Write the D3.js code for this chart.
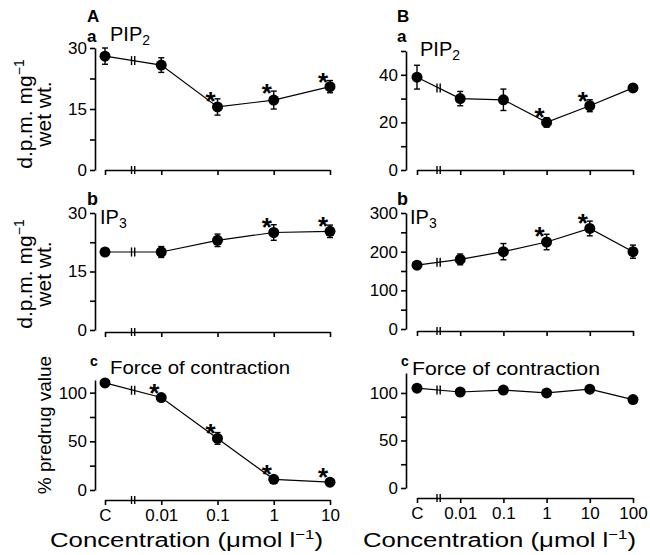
<!DOCTYPE html>
<html>
<head>
<meta charset="utf-8">
<script src="https://cdn.jsdelivr.net/npm/d3@7"></script>
<style>
  body { margin: 0; background: white; }
  text { font-family: "Liberation Sans", Arial, sans-serif; fill: black; }
</style>
</head>
<body>
<div id="chart"></div>
<script>

// concentrations (umol/l), C = control
const concA = ["C", "0.01", "0.1", "1", "10"];
const concB = ["C", "0.01", "0.1", "1", "10", "100"];

// panel A
const pip2A = [28, 25.8, 15.5, 17.2, 20.5];
const pip2AErr = [2, 1.8, 2, 2.2, 1.5];
const pip2AStar = [0, 0, 1, 1, 1];

const ip3A = [20, 20, 23, 25, 25.3];
const ip3AErr = [0, 1.4, 1.6, 2, 1.6];
const ip3AStar = [0, 0, 0, 1, 1];

const forceA = [110, 95, 53, 11, 8];
const forceAErr = [0, 0, 6, 0, 0];
const forceAStar = [0, 1, 1, 1, 1];

// panel B
const pip2B = [39, 30, 29.5, 20, 27, 34.5];
const pip2BErr = [5, 3, 4.5, 2, 2.5, 0];
const pip2BStar = [0, 0, 0, 1, 1, 0];

const ip3B = [165, 180, 200, 225, 260, 200];
const ip3BErr = [0, 14, 21, 20, 19, 17];
const ip3BStar = [0, 0, 0, 1, 1, 0];

const forceB = [105, 101, 103, 100, 104, 93];
const forceBErr = [0, 0, 0, 0, 0, 0];
const forceBStar = [0, 0, 0, 0, 0, 0];

// y ticks
const ticksPipA = [0, 15, 30], minorPipA = [7.5, 22.5];
const ticksPipB = [0, 20, 40], minorPipB = [10, 30, 50];
const ticksIpA = [0, 15, 30], minorIpA = [7.5, 22.5];
const ticksIpB = [0, 100, 200, 300], minorIpB = [50, 150, 250];
const ticksForce = [0, 50, 100], minorForce = [25, 75];

let width = 650;
let height = 555;

let svg = d3.select("#chart")
    .append("svg")
    .attr("width", width)
    .attr("height", height);

const colA = { axisX: 95, xr: [105, 330] };
const colB = { axisX: 406, xr: [417, 633] };

const panels = [
    { col: colA, cats: concA, vals: pip2A, err: pip2AErr, star: pip2AStar, dom: [0, 30], yr: [170, 48], ticks: ticksPipA, minor: minorPipA, xAxisY: 170 },
    { col: colB, cats: concB, vals: pip2B, err: pip2BErr, star: pip2BStar, dom: [0, 50], yr: [170, 51], ticks: ticksPipB, minor: minorPipB, xAxisY: 170 },
    { col: colA, cats: concA, vals: ip3A, err: ip3AErr, star: ip3AStar, dom: [0, 30], yr: [330, 213], ticks: ticksIpA, minor: minorIpA, xAxisY: 332 },
    { col: colB, cats: concB, vals: ip3B, err: ip3BErr, star: ip3BStar, dom: [0, 300], yr: [329, 213], ticks: ticksIpB, minor: minorIpB, xAxisY: 331 },
    { col: colA, cats: concA, vals: forceA, err: forceAErr, star: forceAStar, dom: [0, 113], yr: [490, 380], ticks: ticksForce, minor: minorForce, xAxisY: 500, labels: true },
    { col: colB, cats: concB, vals: forceB, err: forceBErr, star: forceBStar, dom: [0, 121], yr: [488, 373], ticks: ticksForce, minor: minorForce, xAxisY: 498, labels: true }
];

const styleAxis = function(g) {
    g.attr("font-family", "'Liberation Sans', Arial, sans-serif")
        .attr("font-size", 17);
    g.selectAll("path, line")
        .attr("stroke", "black")
        .attr("stroke-width", 1.6);
    return g;
};

const drawPanel = function(p) {
    let x = d3.scalePoint().domain(p.cats).range(p.col.xr);
    let y = d3.scaleLinear().domain(p.dom).range(p.yr);
    let g = svg.append("g");

    // y axis
    g.append("g")
        .attr("transform", "translate(" + p.col.axisX + ",0)")
        .call(d3.axisLeft(y).tickValues(p.ticks).tickSize(5).tickSizeOuter(0).tickPadding(3))
        .call(styleAxis);
    g.append("g")
        .attr("transform", "translate(" + p.col.axisX + ",0)")
        .call(d3.axisLeft(y).tickValues(p.minor).tickSize(5).tickFormat(""))
        .call(styleAxis)
        .select(".domain").remove();

    // x axis
    g.append("g")
        .attr("transform", "translate(0," + p.xAxisY + ")")
        .call(d3.axisBottom(x).tickSize(5).tickSizeOuter(0).tickPadding(4)
            .tickFormat(p.labels ? (d => d) : ""))
        .call(styleAxis);

    // axis break between C and 0.01
    let xb = (x("C") + x("0.01")) / 2;
    const breakMark = function(cx, cy, h) {
        [-1.6, 1.6].forEach(dx => {
            g.append("line")
                .attr("x1", cx + dx).attr("x2", cx + dx)
                .attr("y1", cy - h).attr("y2", cy + h)
                .attr("stroke", "black")
                .attr("stroke-width", 1.4);
        });
    };
    breakMark(xb, p.xAxisY, 4);

    // data line
    let pts = p.cats.map((c, i) => [x(c), y(p.vals[i])]);
    g.append("path")
        .attr("d", d3.line()(pts))
        .attr("fill", "none")
        .attr("stroke", "black")
        .attr("stroke-width", 1.2);
    breakMark(xb, (pts[0][1] + pts[1][1]) / 2, 4.5);

    // error bars
    p.cats.forEach((c, i) => {
        if (!p.err[i]) return;
        let cx = x(c);
        let y1 = y(p.vals[i] + p.err[i]);
        let y2 = y(p.vals[i] - p.err[i]);
        g.append("line").attr("x1", cx).attr("x2", cx).attr("y1", y1).attr("y2", y2)
            .attr("stroke", "black").attr("stroke-width", 1.4);
        [y1, y2].forEach(yy => {
            g.append("line").attr("x1", cx - 3).attr("x2", cx + 3).attr("y1", yy).attr("y2", yy)
                .attr("stroke", "black").attr("stroke-width", 1.4);
        });
    });

    // markers
    g.selectAll("circle")
        .data(pts)
        .join("circle")
        .attr("cx", d => d[0])
        .attr("cy", d => d[1])
        .attr("r", 5.5)
        .attr("fill", "black");

    // significance stars
    p.cats.forEach((c, i) => {
        if (!p.star[i]) return;
        let top = y(p.vals[i] + p.err[i]);
        let cy = Math.min(pts[i][1] - 11, top - 4);
        g.append("text")
            .attr("x", pts[i][0] - 7)
            .attr("y", cy + 15)
            .attr("text-anchor", "middle")
            .attr("font-size", 26)
            .attr("font-weight", "bold")
            .text("*");
    });
};

panels.forEach(drawPanel);

// panel letters and titles
const label = function(x, y, str, size, bold) {
    return svg.append("text")
        .attr("x", x).attr("y", y)
        .attr("font-size", size)
        .attr("font-weight", bold ? "bold" : "normal")
        .text(str);
};

label(87, 22, "A", 17, true);
label(397, 22, "B", 17, true);
label(87, 42, "a", 17, true);
label(397, 42, "a", 17, true);
label(87, 205, "b", 18, true);
label(397, 205, "b", 18, true);
label(90, 366, "c", 14, true);
label(401, 366, "c", 14, true);

const subLabel = function(x, y, main, sub) {
    let t = label(x, y, main, 20, false);
    t.append("tspan").attr("font-size", 14).attr("dy", 4).text(sub);
};
subLabel(110, 41, "PIP", "2");
subLabel(420, 56, "PIP", "2");
subLabel(100, 224, "IP", "3");
subLabel(410, 224, "IP", "3");

label(110, 374, "Force of contraction", 19, false).attr("textLength", 180).attr("lengthAdjust", "spacingAndGlyphs");
label(412, 375, "Force of contraction", 19, false).attr("textLength", 188).attr("lengthAdjust", "spacingAndGlyphs");

// x titles
const xTitle = function(x) {
    let t = svg.append("text")
        .attr("x", x).attr("y", 547)
        .attr("font-size", 20)
        .attr("textLength", 273)
        .attr("lengthAdjust", "spacingAndGlyphs")
        .text("Concentration (\u03bcmol l");
    t.append("tspan").attr("font-size", 13).attr("dy", -8).text("\u22121");
    t.append("tspan").attr("dy", 8).text(")");
};
xTitle(50);
xTitle(363);

// y titles
const yTitle = function(cx, cy, lines, size) {
    lines.forEach((ln, i) => {
        let t = svg.append("text")
            .attr("transform", "translate(" + (cx + i * 19) + "," + cy + ") rotate(-90)")
            .attr("text-anchor", "middle")
            .attr("font-size", size)
            .text(ln[0]);
        if (ln[1]) t.append("tspan").attr("font-size", 14).attr("dy", -8).text(ln[1]);
    });
};
yTitle(32, 114, [["d.p.m. mg", "\u22121"], ["wet wt."]], 21);
yTitle(32, 274, [["d.p.m. mg", "\u22121"], ["wet wt."]], 21);
yTitle(51, 425, [["% predrug value"]], 19);

</script>
</body>
</html>
